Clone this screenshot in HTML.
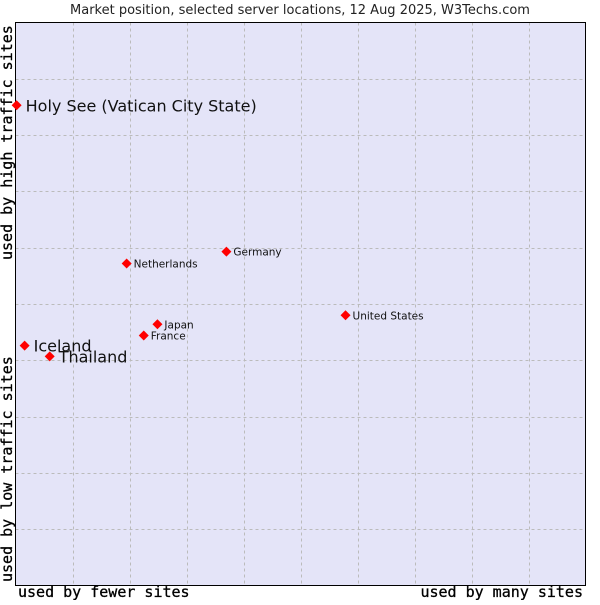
<!DOCTYPE html>
<html><head><meta charset="utf-8"><style>
body{margin:0;background:#fff;}
svg text{font-family:"DejaVu Sans","Liberation Sans",sans-serif;}
.mono{font-family:"DejaVu Sans Mono","Liberation Mono",monospace !important;}
</style></head><body>
<svg width="600" height="600">
<text x="300" y="14" text-anchor="middle" font-size="13" fill="#222">Market position, selected server locations, 12 Aug 2025, W3Techs.com</text>
<rect x="15.5" y="22.5" width="570" height="563" fill="#e4e4f8" stroke="none"/>
<g id="grid"></g>
<line x1="15.5" y1="22.5" x2="585.5" y2="22.5" stroke="#000"/>
<line x1="15.5" y1="22" x2="15.5" y2="586" stroke="#000"/>
<line x1="15" y1="585.5" x2="586" y2="585.5" stroke="#000"/>
<line x1="585.5" y1="22" x2="585.5" y2="586" stroke="#000"/>
<text class="mono" x="18" y="597" font-size="15" fill="#000" stroke="#000" stroke-width="0.3">used by fewer sites</text>
<text class="mono" x="583" y="597" font-size="15" fill="#000" stroke="#000" stroke-width="0.3" text-anchor="end">used by many sites</text>
<text class="mono" transform="translate(12,582) rotate(-90)" font-size="15" fill="#000" stroke="#000" stroke-width="0.3">used by low traffic sites</text>
<text class="mono" transform="translate(12,260) rotate(-90)" font-size="15" fill="#000" stroke="#000" stroke-width="0.3">used by high traffic sites</text>
<g id="points"></g>
</svg>
<script>
const countries = ["Holy See (Vatican City State)","Iceland","Thailand","Netherlands","Germany","Japan","France","United States"];
const xValues = [0.2,1.6,6.0,19.5,37.0,24.9,22.5,57.9];
const yValues = [85.3,42.6,40.7,57.2,59.3,46.4,44.4,48.0];
const bigLabel = [true,true,true,false,false,false,false,false];
const NS="http://www.w3.org/2000/svg";
const L=15.5,T=22.5,W=570,H=563;
function xs(v){return L+v/100*W;}
function ys(v){return T+H-v/100*H;}
const grid=document.getElementById('grid');
for(let i=1;i<10;i++){
  const v=document.createElementNS(NS,'line');
  const x=Math.round(xs(i*10))+0.5;
  v.setAttribute('x1',x);v.setAttribute('x2',x);v.setAttribute('y1',T);v.setAttribute('y2',T+H);
  v.setAttribute('stroke','#bbb');v.setAttribute('stroke-dasharray','3,3');
  
  
  grid.appendChild(v);
  const h=document.createElementNS(NS,'line');
  const y=Math.round(ys(i*10))+0.5;
  h.setAttribute('x1',L);h.setAttribute('x2',L+W);h.setAttribute('y1',y);h.setAttribute('y2',y);
  h.setAttribute('stroke','#bbb');h.setAttribute('stroke-dasharray','3,3');
  
  
  grid.appendChild(h);
}
const pts=document.getElementById('points');
countries.forEach((c,i)=>{
  const x=xs(xValues[i]),y=ys(yValues[i]);
  const d=document.createElementNS(NS,'path');
  d.setAttribute('d',`M${x-5},${y} L${x},${y-5} L${x+5},${y} L${x},${y+5} Z`);
  d.setAttribute('fill','#f00');
  
  
  pts.appendChild(d);
  const t=document.createElementNS(NS,'text');
  t.setAttribute('x',x+(bigLabel[i]?9:7));
  t.setAttribute('y',y+(bigLabel[i]?6:4));
  t.setAttribute('font-size',bigLabel[i]?16:10.5);
  t.setAttribute('fill','#111');
  t.textContent=c;
  
  
  pts.appendChild(t);
});
</script>
</body></html>
